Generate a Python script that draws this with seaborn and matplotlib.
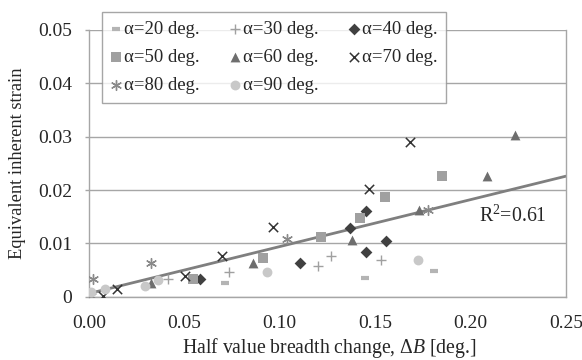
import numpy as np
import pandas as pd
import matplotlib
matplotlib.use("Agg")
import matplotlib.pyplot as plt
import seaborn as sns

# Values
a20_x = [0.0714, 0.1449, 0.1810]
a20_y = [0.0025, 0.0036, 0.0048]
a30_x = [0.0412, 0.0735, 0.1199, 0.1268, 0.1532]
a30_y = [0.0033, 0.0047, 0.0058, 0.0077, 0.0068]
a40_x = [0.0583, 0.1106, 0.1366, 0.1454, 0.1452, 0.1559]
a40_y = [0.0033, 0.0063, 0.0128, 0.0161, 0.0084, 0.0105]
a50_x = [0.0547, 0.0914, 0.1216, 0.1420, 0.1551, 0.1850]
a50_y = [0.0034, 0.0072, 0.0111, 0.0148, 0.0186, 0.0227]
a60_x = [0.0325, 0.0861, 0.1377, 0.1728, 0.2086, 0.2233]
a60_y = [0.0025, 0.0063, 0.0106, 0.0163, 0.0226, 0.0303]
a70_x = [0.0075, 0.0147, 0.0505, 0.0699, 0.0963, 0.1469, 0.1681]
a70_y = [0.0001, 0.0014, 0.0039, 0.0076, 0.0130, 0.0201, 0.0290]
a80_x = [0.0010, 0.0023, 0.0325, 0.1038, 0.1778]
a80_y = [0.0001, 0.0033, 0.0064, 0.0108, 0.0163]
a90_x = [0.0010, 0.0086, 0.0294, 0.0363, 0.0931, 0.1724]
a90_y = [0.0008, 0.0014, 0.0021, 0.0031, 0.0046, 0.0068]

# linear trendline
trend_slope = 0.088
trend_intercept = 0.0006
trend_x = [0.003, 0.25]
r2_label = "R$^2$=0.61"

x_ticks = [0.00, 0.05, 0.10, 0.15, 0.20, 0.25]
y_ticks = [0, 0.01, 0.02, 0.03, 0.04, 0.05]

sns.set_style("white")
plt.rcParams['font.family'] = ['Liberation Serif', 'DejaVu Serif']
plt.rcParams['mathtext.fontset'] = 'custom'
plt.rcParams['mathtext.rm'] = 'Liberation Serif'
plt.rcParams['mathtext.it'] = 'Liberation Serif:italic'

series = [
    # label, x, y, marker, color, size, linewidth
    ("α=20 deg.", a20_x, a20_y, "_", "#b4b4b4", 30, 3.0),
    ("α=30 deg.", a30_x, a30_y, "+", "#a0a0a0", 50, 1.0),
    ("α=40 deg.", a40_x, a40_y, "D", "#404040", 36, 0),
    ("α=50 deg.", a50_x, a50_y, "s", "#a0a0a0", 45, 0),
    ("α=60 deg.", a60_x, a60_y, "^", "#6e6e6e", 50, 0),
    ("α=70 deg.", a70_x, a70_y, "x", "#333333", 45, 1.1),
    ("α=80 deg.", a80_x, a80_y, (6, 2, 0), "#8a8a8a", 50, 1.0),
    ("α=90 deg.", a90_x, a90_y, "o", "#c8c8c8", 50, 0),
]

fig = plt.figure(figsize=(5.82, 3.6), dpi=100)
ax = fig.add_axes([0.1529, 0.1758, 0.8196, 0.7409])

grid_col = "#a6a6a6"
for yv in y_ticks:
    ax.axhline(yv, color=grid_col, lw=1.0, zorder=0)

for label, xs, ys, mk, col, s, lw in series:
    df = pd.DataFrame({"x": xs, "y": ys})
    if lw > 0:
        sns.scatterplot(data=df, x="x", y="y", ax=ax, marker=mk, color=col,
                        s=s, linewidth=lw, label=label, zorder=3)
    else:
        sns.scatterplot(data=df, x="x", y="y", ax=ax, marker=mk, color=col,
                        s=s, edgecolor=col, linewidth=0, label=label, zorder=3)

tx = np.array(trend_x)
ax.plot(tx, trend_slope * tx + trend_intercept, color="#7f7f7f", lw=2.0, zorder=2)
ax.text(0.2045, 0.0150, r2_label, fontsize=14.3, ha="left", va="center")

ax.set_xlim(0, 0.25)
ax.set_ylim(0, 0.05)
ax.set_xticks(x_ticks)
ax.set_xticklabels([f"{v:.2f}" for v in x_ticks])
ax.set_yticks(y_ticks)
ax.set_yticklabels(["0"] + [f"{v:.2f}" for v in y_ticks[1:]])
ax.tick_params(axis="y", direction="out", length=3, width=1, color=grid_col,
               labelsize=14, pad=9, left=True)
ax.tick_params(axis="x", length=0, labelsize=14, pad=13.5)
for side in ["left", "right", "bottom"]:
    ax.spines[side].set_color(grid_col)
    ax.spines[side].set_linewidth(1.0)
ax.spines["top"].set_visible(False)

ax.set_xlabel("Half value breadth change, $\\Delta \\mathit{B}$ [deg.]", fontsize=14.2)
ax.xaxis.set_label_coords((329 - 88) / 478, (296.7 - 348) / 266.7)
ax.xaxis.label.set_va("center")
ax.set_ylabel("Equivalent inherent strain", fontsize=13.3)
ax.yaxis.set_label_coords((18 - 89) / 477, 0.5)
ax.yaxis.label.set_va("center")

# legend fills row-wise in the reference, matplotlib fills column-wise
h, l = ax.get_legend_handles_labels()
order = [0, 3, 6, 1, 4, 7, 2, 5]
ax.get_legend().remove()
leg = fig.legend([h[i] for i in order], [l[i] for i in order], ncol=3,
                 loc="upper left", bbox_to_anchor=(102 / 582, 1 - 12 / 360),
                 borderaxespad=0, fontsize=13.5, frameon=True, fancybox=False,
                 edgecolor="#909090", handletextpad=0.15, columnspacing=1.55,
                 handlelength=0.6, borderpad=0.45, labelspacing=0.6)
leg.get_frame().set_linewidth(1.0)

fig.savefig("out.png", dpi=100)
